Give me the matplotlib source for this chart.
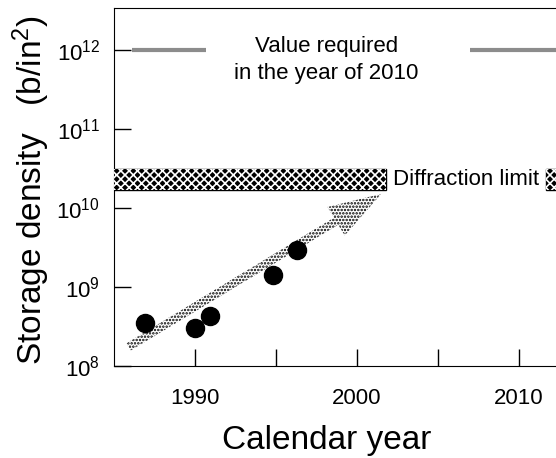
import numpy as np
import matplotlib
matplotlib.use("Agg")
import matplotlib.pyplot as plt
from matplotlib.patches import Rectangle

plt.rcParams['font.family'] = ['Liberation Sans', 'DejaVu Sans']
plt.rcParams['mathtext.fontset'] = 'custom'
plt.rcParams['mathtext.rm'] = 'Liberation Sans'
plt.rcParams['mathtext.it'] = 'Liberation Sans'
plt.rcParams['mathtext.bf'] = 'Liberation Sans'
plt.rcParams['hatch.linewidth'] = 1.2

# measured storage densities
years = [1986.9, 1990.0, 1990.95, 1994.8, 1996.3]
density = [3.5e8, 3.0e8, 4.3e8, 1.4e9, 2.96e9]

# trend arrow
trend_start = (1985.9, 1.74e8)
trend_end = (2001.5, 1.5e10)

# target for 2010
target = 1e12
target_spans = [(1986.1, 1990.7), (2007.0, 2015.0)]

# diffraction limit band
diff_low, diff_high = 1.7e10, 3.1e10
diff_spans = [(1985.0, 2001.8), (2011.7, 2015.0)]

xticks = [1990, 1995, 2000, 2005, 2010]
xticklabels = ['1990', '', '2000', '', '2010']

fig = plt.figure(figsize=(5.56, 4.58), dpi=100)
ax = fig.add_axes([0.205, 0.201, 0.874, 0.782])
ax.set_yscale('log')
ax.set_xlim(1985, 2015)
ax.set_ylim(1e8, 10 ** 12.53)

# diffraction band: black base with a white lattice on top
for x0, x1 in diff_spans:
    ax.add_patch(Rectangle((x0, diff_low), x1 - x0, diff_high - diff_low,
                           facecolor='black', edgecolor='black', lw=1, zorder=2))
    ax.add_patch(Rectangle((x0, diff_low), x1 - x0, diff_high - diff_low,
                           facecolor='none', edgecolor='white', lw=0,
                           hatch='xxxx', zorder=3))
ax.text(2002.2, 2.3e10, 'Diffraction limit', fontsize=16, va='center', ha='left')

for x0, x1 in target_spans:
    ax.plot([x0, x1], [target, target], color='#8c8c8c', lw=3, solid_capstyle='butt')
ax.text(1998.1, 7.4e11, 'Value required\nin the year of 2010', fontsize=16,
        ha='center', va='center', linespacing=1.35)

ax.annotate('', xy=trend_end, xytext=trend_start,
            arrowprops=dict(arrowstyle='simple,head_length=1.9,head_width=1.2,tail_width=0.3',
                            mutation_scale=20, facecolor='none', edgecolor='black',
                            lw=0, hatch='.....', shrinkA=0, shrinkB=0))

ax.plot(years, density, 'o', color='black', markersize=13, zorder=5)

ax.set_xticks(xticks)
ax.set_xticklabels(xticklabels)
ax.set_yticks([1e8, 1e9, 1e10, 1e11, 1e12])
ax.minorticks_off()
ax.tick_params(direction='in', length=12, width=1, labelsize=16)
ax.tick_params(axis='x', pad=16)
ax.tick_params(axis='y', pad=10)
ax.spines['right'].set_visible(False)

fig.text(327 / 556, 1 - 440 / 458, 'Calendar year', fontsize=24, ha='center', va='center')
fig.text(31 / 556, 1 - 190 / 458, 'Storage density   (b/in$^2$)', fontsize=24,
         rotation=90, ha='center', va='center')

fig.savefig('out.png', dpi=100)
